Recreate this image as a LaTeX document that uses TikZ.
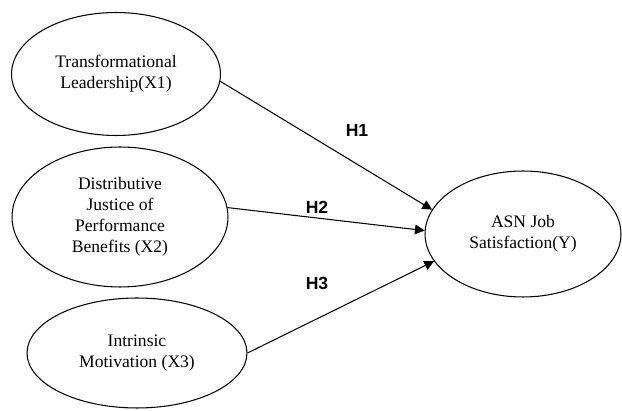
\documentclass[tikz,border=0pt]{standalone}
\usepackage{fontspec}
\setmainfont{Liberation Serif}
\newfontfamily\hypfont{Liberation Sans}
\usetikzlibrary{arrows.meta, shapes.geometric}

\begin{document}
\begin{tikzpicture}[x=0.02cm, y=-0.02cm,
        construct/.style={draw, ellipse, inner sep=0pt, align=center, line width=0.6pt, font=\fontsize{10}{12}\selectfont},
        arrow/.style={-{Triangle[length=5.5pt, width=5.5pt]}, line width=0.6pt},
        hyp/.style={font=\hypfont\bfseries\fontsize{10}{12}\selectfont}
    ]
        \useasboundingbox (0,0) rectangle (622,411);

        % Independent variables
        \node[construct, minimum width=4.18cm, minimum height=2.46cm] (lead) at (116,74) {Transformational\\Leadership(X1)};
        \node[construct, minimum width=4.32cm, minimum height=2.8cm] (justice) at (120,217) {Distributive\\Justice of\\Performance\\Benefits (X2)};
        \node[construct, minimum width=4.4cm, minimum height=2.2cm] (motiv) at (137,353) {Intrinsic\\Motivation (X3)};

        % Dependent variable
        \node[construct, minimum width=3.92cm, minimum height=2.52cm] (satis) at (523,234) {ASN Job\\Satisfaction(Y)};

        \draw[arrow] (lead.-4) -- (satis.165);
        \draw[arrow] (justice.5) -- (satis.178);
        \draw[arrow] (motiv.east) -- (satis.197);

        % Hypotheses
        \node[hyp] (h1) at (357,130) {H1};
        \node[hyp] (h2) at (317,207) {H2};
        \node[hyp] (h3) at (317,283) {H3};

    \end{tikzpicture}
\end{document}
